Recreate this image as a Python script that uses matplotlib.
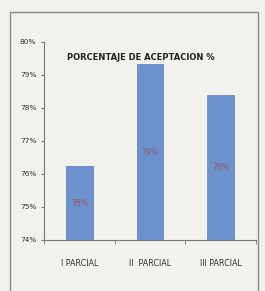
import matplotlib
matplotlib.use("Agg")
import matplotlib.pyplot as plt
from matplotlib.patches import Rectangle
from matplotlib.ticker import FixedLocator

categories = ["I PARCIAL", "II  PARCIAL", "III PARCIAL"]
values = [76.24, 79.33, 78.40]
bar_labels = ["76%", "79%", "78%"]
yticks = [74, 75, 76, 77, 78, 79, 80]
ytick_labels = ["74%", "75%", "76%", "77%", "78%", "79%", "80%"]
title = "PORCENTAJE DE ACEPTACION %"

fam = ["DejaVu Sans"]
bg = "#f1f1ed"
fig = plt.figure(figsize=(2.65, 2.91), dpi=100, facecolor=bg)
fig.patches.append(Rectangle((10/265, -0.05), 248/265, 1 - 12/291 + 0.05,
                             transform=fig.transFigure, fill=False,
                             edgecolor="#8a8a8a", linewidth=1.0))
ax = fig.add_axes([44/265, 1 - 240/291, 212/265, (240 - 42)/291])
ax.set_facecolor("none")
x = list(range(len(categories)))
bars = ax.bar(x, [v - 74 for v in values], bottom=74, width=0.38,
              color="#6d91cc", edgecolor="#5a7fb8", linewidth=0.5)
for xi, v, lab in zip(x, values, bar_labels):
    ax.text(xi, (74 + v) / 2, lab, ha="center", va="center",
            fontsize=5.5, color="#8a5a6a", family=fam)
ax.set_xlim(-0.5, 2.5)
ax.set_ylim(74, 80)
ax.set_yticks(yticks)
ax.set_yticklabels(ytick_labels, family=fam, fontsize=5.3, color="#333333")
ax.set_xticks(x)
ax.set_xticklabels(categories, family=fam, fontsize=5.8, color="#333333")
ax.tick_params(axis="x", length=0, pad=14)
ax.xaxis.set_minor_locator(FixedLocator([-0.5, 0.5, 1.5, 2.5]))
ax.tick_params(axis="x", which="minor", length=3, color="#777777")
ax.tick_params(axis="y", length=2.5, color="#777777", pad=3)
for s in ["top", "right"]:
    ax.spines[s].set_visible(False)
for s in ["left", "bottom"]:
    ax.spines[s].set_color("#777777")
    ax.spines[s].set_linewidth(0.8)
fig.text(141/265, 1 - 57/291, title, ha="center", va="center",
         fontsize=6.0, fontweight="bold", family=fam, color="#222222")
fig.savefig("out.png", dpi=100, facecolor=bg)
